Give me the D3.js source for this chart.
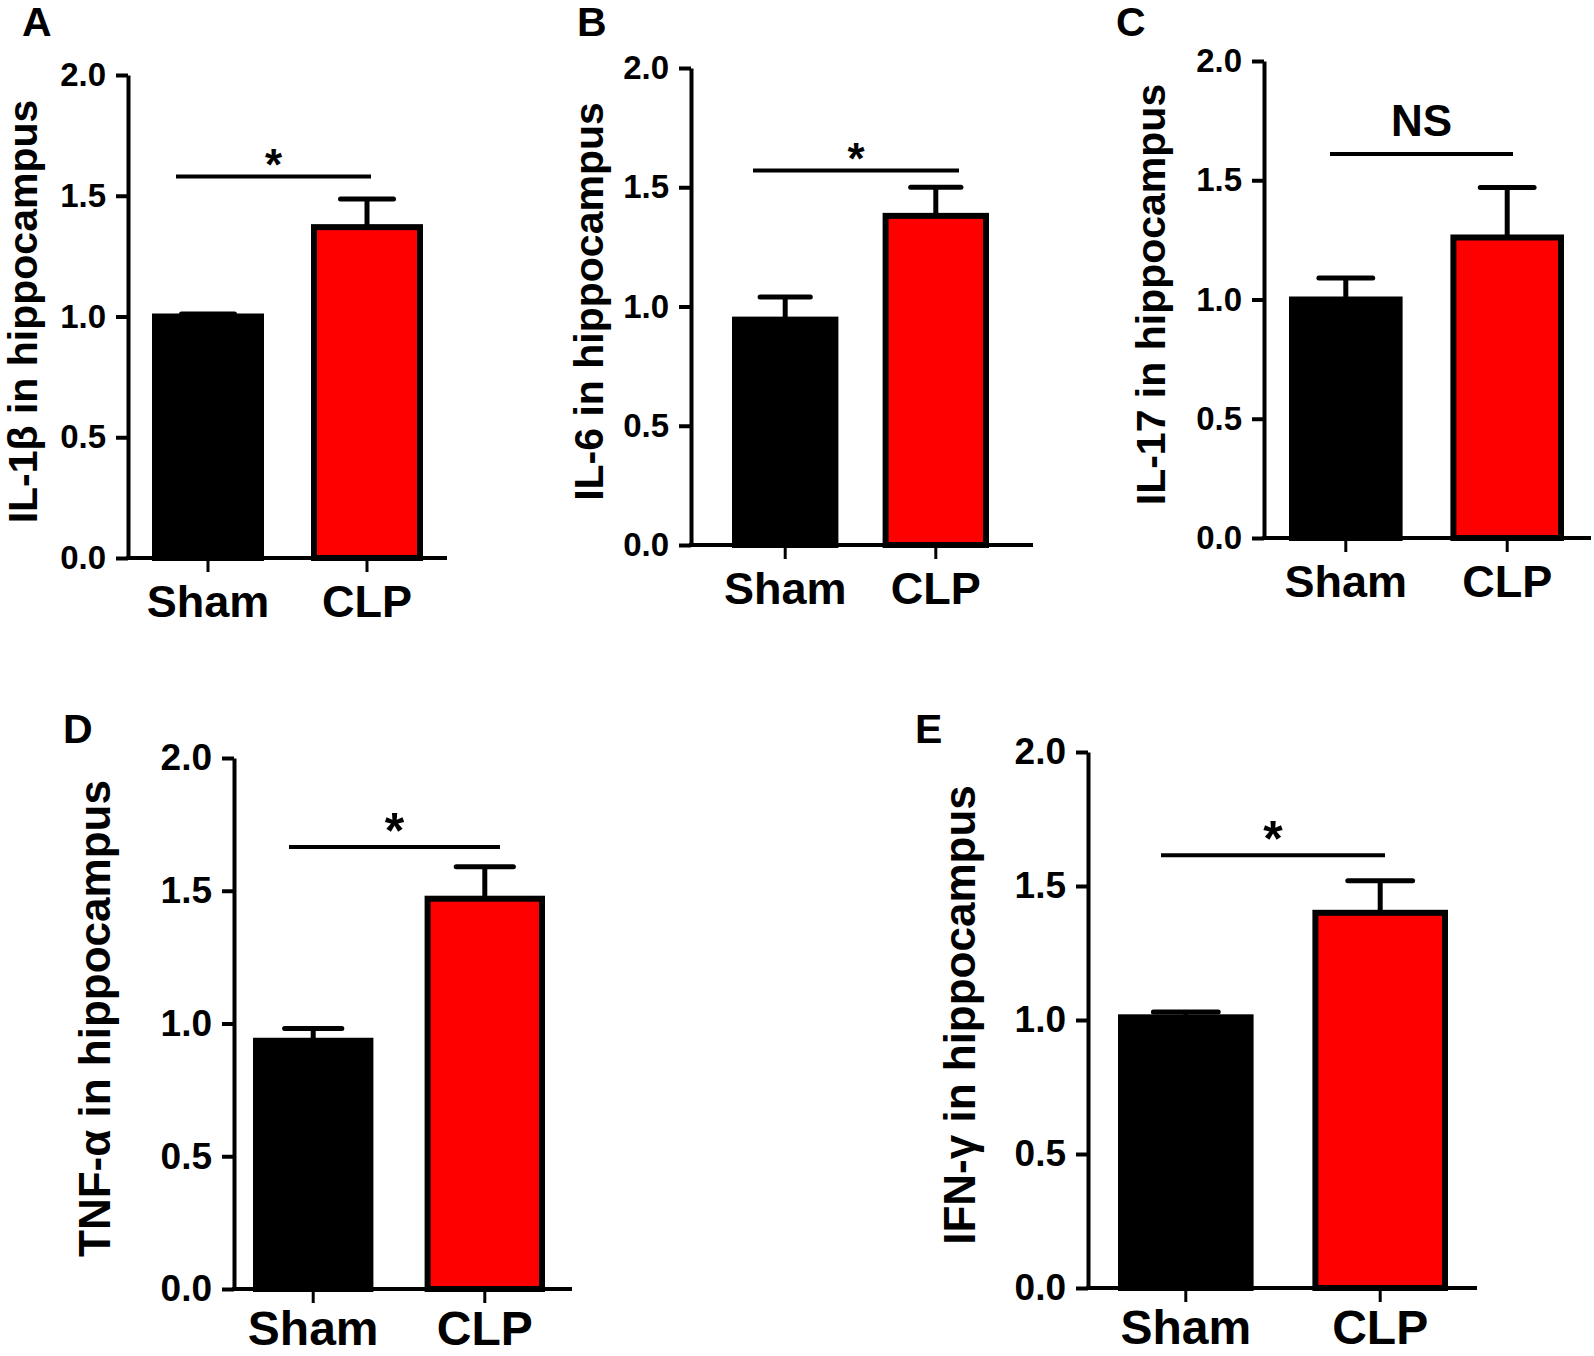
<!DOCTYPE html>
<html>
<head>
<meta charset="utf-8">
<script src="https://cdn.jsdelivr.net/npm/d3@7"></script>
<style>
  body { margin: 0; background: #fff; }
  svg { display: block; font-family: "Liberation Sans", Arial, sans-serif; font-weight: bold; }
</style>
</head>
<body>
<div id="chart"></div>
<script>
// values (relative expression, mean + SEM)
var groups = ["Sham", "CLP"];
var panelLetters = ["A", "B", "C", "D", "E"];
var cytokines = ["IL-1β", "IL-6", "IL-17", "TNF-α", "IFN-γ"];
var shamMean = [1.00, 0.945, 1.00, 0.935, 1.01];
var shamSem  = [0.01, 0.095, 0.09, 0.046, 0.02];
var clpMean  = [1.37, 1.38, 1.26, 1.47, 1.40];
var clpSem   = [0.117, 0.12, 0.21, 0.12, 0.12];
var sigLevel = [1.58, 1.57, 1.61, 1.665, 1.615];
var sigLabel = ["*", "*", "NS", "*", "*"];
var yTicks = [0, 0.5, 1.0, 1.5, 2.0];
var colors = ["#000000", "#ff0000"];

// where each panel sits on the page
var layout = [
    {ax: 128,  top: 75,  bot: 558,  right: 447,  band: [155, 420],   sig: [176, 371],   lx: 22,  ly: 36,  labelX: 37,  tickFs: 33, labelFs: 41, catFs: 45, catPad: 13, starFs: 44},
    {ax: 691,  top: 68,  bot: 545,  right: 1033, band: [735, 986],   sig: [753, 959],   lx: 577, ly: 36,  labelX: 603, tickFs: 33, labelFs: 41, catFs: 45, catPad: 13, starFs: 44},
    {ax: 1264, top: 61,  bot: 538,  right: 1591, band: [1292, 1561], sig: [1330, 1513], lx: 1116, ly: 36, labelX: 1165, tickFs: 33, labelFs: 41, catFs: 45, catPad: 13, starFs: 44},
    {ax: 234,  top: 758, bot: 1289, right: 572,  band: [256, 542],   sig: [289, 500],   lx: 63,  ly: 743, labelX: 110, tickFs: 37, labelFs: 44, catFs: 48, catPad: 8,  starFs: 50},
    {ax: 1088, top: 752, bot: 1288, right: 1477, band: [1121, 1445], sig: [1161, 1385], lx: 915, ly: 743, labelX: 975, tickFs: 37, labelFs: 44, catFs: 48, catPad: 8,  starFs: 50}
];

var svg = d3.select("#chart")
    .append("svg")
    .attr("width", 1594)
    .attr("height", 1356);

layout.forEach(function(L, i) {

    var rows = [
        {group: groups[0], mean: shamMean[i], sem: shamSem[i]},
        {group: groups[1], mean: clpMean[i], sem: clpSem[i]}
    ];

    var g = svg.append("g").attr("class", "panel");

    var yScale = d3.scaleLinear().domain([0, 2]).range([L.bot, L.top]);
    var xScale = d3.scaleBand().domain(groups).range(L.band).paddingInner(1/3);
    var bw = xScale.bandwidth();

    // panel letter
    g.append("text")
        .attr("x", L.lx)
        .attr("y", L.ly)
        .attr("font-size", 41)
        .text(panelLetters[i]);

    // bars
    g.selectAll("rect.bar")
        .data(rows)
        .enter().append("rect")
        .attr("class", "bar")
        .attr("x", function(d) { return xScale(d.group); })
        .attr("width", bw)
        .attr("y", function(d) { return yScale(d.mean); })
        .attr("height", function(d) { return yScale(0) - yScale(d.mean); })
        .attr("fill", function(d, j) { return colors[j]; })
        .attr("stroke", "#000")
        .attr("stroke-width", 6);

    // error bars (upper only)
    var err = g.selectAll("g.err")
        .data(rows)
        .enter().append("g")
        .attr("class", "err")
        .attr("stroke", "#000")
        .attr("stroke-width", 5);

    err.append("line")
        .attr("x1", function(d) { return xScale(d.group) + bw / 2; })
        .attr("x2", function(d) { return xScale(d.group) + bw / 2; })
        .attr("y1", function(d) { return yScale(d.mean); })
        .attr("y2", function(d) { return yScale(d.mean + d.sem); });

    err.append("line")
        .attr("stroke-linecap", "round")
        .attr("x1", function(d) { return xScale(d.group) + bw * 0.25; })
        .attr("x2", function(d) { return xScale(d.group) + bw * 0.75; })
        .attr("y1", function(d) { return yScale(d.mean + d.sem); })
        .attr("y2", function(d) { return yScale(d.mean + d.sem); });

    // y axis
    var yAxis = d3.axisLeft(yScale)
        .tickValues(yTicks)
        .tickFormat(d3.format(".1f"))
        .tickSize(12)
        .tickSizeOuter(0)
        .tickPadding(10);

    var yAxisGroup = g.append("g")
        .attr("class", "y axis")
        .attr("transform", "translate(" + L.ax + ",0)")
        .call(yAxis);

    yAxisGroup.attr("font-family", null).attr("font-size", L.tickFs);
    yAxisGroup.select(".domain").attr("stroke-width", 4);
    yAxisGroup.selectAll(".tick line").attr("stroke-width", 4);
    yAxisGroup.selectAll(".tick text").attr("fill", "#000");

    // x axis baseline runs past the bars
    g.append("line")
        .attr("x1", L.ax - 2)
        .attr("x2", L.right)
        .attr("y1", yScale(0))
        .attr("y2", yScale(0))
        .attr("stroke", "#000")
        .attr("stroke-width", 4);

    var xAxis = d3.axisBottom(xScale)
        .tickSize(12)
        .tickSizeOuter(0)
        .tickPadding(L.catPad);

    var xAxisGroup = g.append("g")
        .attr("class", "x axis")
        .attr("transform", "translate(0," + (yScale(0) + 2) + ")")
        .call(xAxis);

    xAxisGroup.attr("font-family", null).attr("font-size", L.catFs);
    xAxisGroup.select(".domain").remove();
    xAxisGroup.selectAll(".tick line").attr("stroke-width", 3);
    xAxisGroup.selectAll(".tick text").attr("fill", "#000");

    // y label
    g.append("text")
        .attr("transform", "translate(" + L.labelX + "," + ((L.top + L.bot) / 2 - 5) + ") rotate(-90)")
        .attr("text-anchor", "middle")
        .attr("font-size", L.labelFs)
        .text(cytokines[i] + " in hippocampus");

    // significance bar
    var sy = yScale(sigLevel[i]);

    g.append("line")
        .attr("x1", L.sig[0])
        .attr("x2", L.sig[1])
        .attr("y1", sy)
        .attr("y2", sy)
        .attr("stroke", "#000")
        .attr("stroke-width", 4);

    var isStar = sigLabel[i] === "*";
    g.append("text")
        .attr("x", (L.sig[0] + L.sig[1]) / 2)
        .attr("y", isStar ? sy - 22 - (L.starFs - 44) + 0.575 * L.starFs : sy - 18)
        .attr("text-anchor", "middle")
        .attr("font-size", L.starFs)
        .text(sigLabel[i]);
});
</script>
</body>
</html>
